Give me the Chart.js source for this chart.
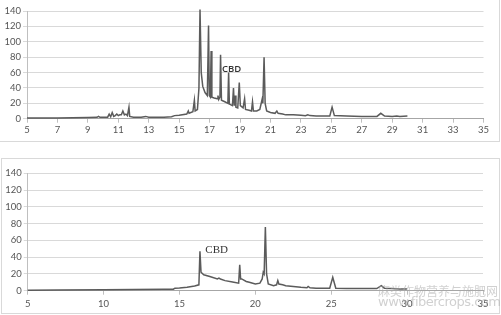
<!DOCTYPE html>
<html><head><meta charset="utf-8">
<script src="https://cdn.jsdelivr.net/npm/chart.js@4/dist/chart.umd.min.js"></script>
<style>
html,body{margin:0;padding:0;background:#fff;width:501px;height:315px;overflow:hidden;}
#f1{position:absolute;left:-1px;top:-1px;width:499px;height:141px;border:1px solid #d9d9d9;}
#f2{position:absolute;left:1px;top:158px;width:497px;height:154px;border:1px solid #d9d9d9;}
#c1{position:absolute;left:0;top:0;}
#c2{position:absolute;left:0;top:158px;}
.wm{position:absolute;color:rgba(170,170,170,0.55);white-space:nowrap;}
</style></head>
<body>
<div id="f1"></div><div id="f2"></div>
<canvas id="c1" width="501" height="141"></canvas>
<canvas id="c2" width="501" height="157"></canvas>
<div class="wm" style="left:378px;top:282px;font:12px 'Noto Sans CJK SC';letter-spacing:0px;">麻类作物营养与施肥网</div>
<div class="wm" style="left:378px;top:294px;font:13px 'DejaVu Sans';letter-spacing:-0.5px;">www.fibercrops.com</div>
<script>
// Top chromatogram: retention time (min) and signal
const topTimes = [5.0,6.0,7.0,8.0,9.0,9.6,9.7,9.8,10.3,10.4,10.5,10.6,10.7,10.8,10.9,11.0,11.1,11.2,11.3,11.4,11.5,11.6,11.7,11.75,12.0,12.5,12.8,13.0,13.5,14.0,14.5,14.7,15.0,15.5,15.6,15.65,15.9,16.0,16.05,16.2,16.3,16.37,16.45,16.55,16.7,16.85,16.93,16.98,17.05,17.1,17.15,17.3,17.5,17.55,17.6,17.68,17.72,17.78,18.0,18.2,18.25,18.3,18.5,18.57,18.62,18.68,18.73,18.85,18.95,19.02,19.2,19.3,19.36,19.6,19.75,19.82,19.88,20.1,20.3,20.45,20.5,20.58,20.65,20.75,21.0,21.3,21.42,21.5,21.8,22.0,22.5,23.0,23.3,23.45,23.6,24.0,24.9,25.05,25.2,26.0,27.0,28.0,28.25,28.5,29.0,29.3,29.5,30.0];
const topValues = [1,1,1,1.2,1.5,1.8,3,1.8,2,6,2.5,8,3,4,6,4,5,5,10,5,6,4,15,3,2,2,3,2,2,2,2.5,4,4.5,6,10,7,9,24,10,12,40,142,60,42,34,30,121,30,28,88,28,27,26,30,25,28,83,24,22,20,60,19,17,40,17,30,15,14,47,17,14,26,12,11,10,22,10,10,12,25,20,80,20,10,8,7,10,7,6,5,5,4.5,4,5,4,3.5,3.5,15,4,3.5,3,3,7,3.5,3,3.5,3,3.5];
// Bottom chromatogram
const botTimes = [5.0,7.0,10.0,12.0,14.0,14.6,14.7,15.0,15.5,16.0,16.28,16.35,16.42,16.6,17.0,17.5,17.6,17.7,18.0,18.5,18.9,18.97,19.03,19.1,19.4,19.6,20.0,20.3,20.45,20.52,20.58,20.66,20.74,20.85,21.2,21.4,21.48,21.55,21.8,22.0,22.5,23.0,23.4,23.48,23.6,24.0,24.9,25.1,25.3,26.0,27.0,28.0,28.3,28.5,29.0,29.5,30.0];
const botValues = [0.5,0.8,1.2,1.4,1.6,1.8,3,3.2,4,5.5,7,47,22,19,17,14,15,14,12,10.5,9,31,14,14,11,10,8,9,14,22,20,76,20,8,6,7,12,8,7,6,5,4,3.5,5,3.5,3,3,16,3,2.5,2.5,2.5,6,3,2.5,2,2];
const topXTicks = [5,35,2];   // min, max, step
const botXTicks = [5,35,5];
const yTicks = [0,140,20];
const topLabel = {text:'CBD', x:18.44, y:64.5};
const botLabel = {text:'CBD', x:17.45, y:48.5};

const labelPlugin = {
  id:'peakLabel',
  afterDatasetsDraw(chart, args, opts){
    const ctx = chart.ctx, xs = chart.scales.x, ys = chart.scales.y;
    ctx.save();
    ctx.font = opts.font; ctx.fillStyle = opts.color;
    ctx.textAlign='center'; ctx.textBaseline='middle';
    ctx.fillText(opts.text, xs.getPixelForValue(opts.x), ys.getPixelForValue(opts.y));
    ctx.restore();
  }
};

function makeChart(id, times, values, xt, label, labelFont, pad, xAxisH, yAxisW, xPad){
  const pts = times.map((t,i)=>({x:t,y:values[i]}));
  return new Chart(document.getElementById(id), {
    type:'line',
    data:{datasets:[{data:pts, borderColor:'#5b5b5b', borderWidth:1.5, pointRadius:0, tension:0, fill:false, clip:false}]},
    options:{
      responsive:false, animation:false, devicePixelRatio:1,
      layout:{padding:pad},
      plugins:{legend:{display:false}, tooltip:{enabled:false},
        peakLabel:{text:label.text, x:label.x, y:label.y, font:labelFont, color:'#333'}},
      scales:{
        x:{type:'linear', min:xt[0], max:xt[1],
           afterFit(s){ s.height = xAxisH; },
           ticks:{stepSize:xt[2], color:'#555', font:{family:'Lato', size:9.5}, padding:xPad, maxRotation:0, autoSkip:false},
           grid:{drawOnChartArea:false, tickLength:4, color:'#bfbfbf'},
           border:{color:'#a6a6a6', width:1}},
        y:{min:yTicks[0], max:yTicks[1],
           afterFit(s){ s.width = yAxisW; },
           ticks:{stepSize:yTicks[2], color:'#555', font:{family:'Lato', size:9.5}, padding:2},
           grid:{color:'#d9d9d9', tickLength:4},
           border:{color:'#bfbfbf', width:1}}
      }
    },
    plugins:[labelPlugin]
  });
}
makeChart('c1', topTimes, topValues, topXTicks, topLabel, '600 9.5px "Open Sans"', {top:11, right:17.5, left:0, bottom:0}, 22.3, 27, 2);
makeChart('c2', botTimes, botValues, botXTicks, botLabel, '11px "Liberation Serif"', {top:15.3, right:18, left:0, bottom:0}, 24.3, 27.7, 4);
</script>
</body></html>
